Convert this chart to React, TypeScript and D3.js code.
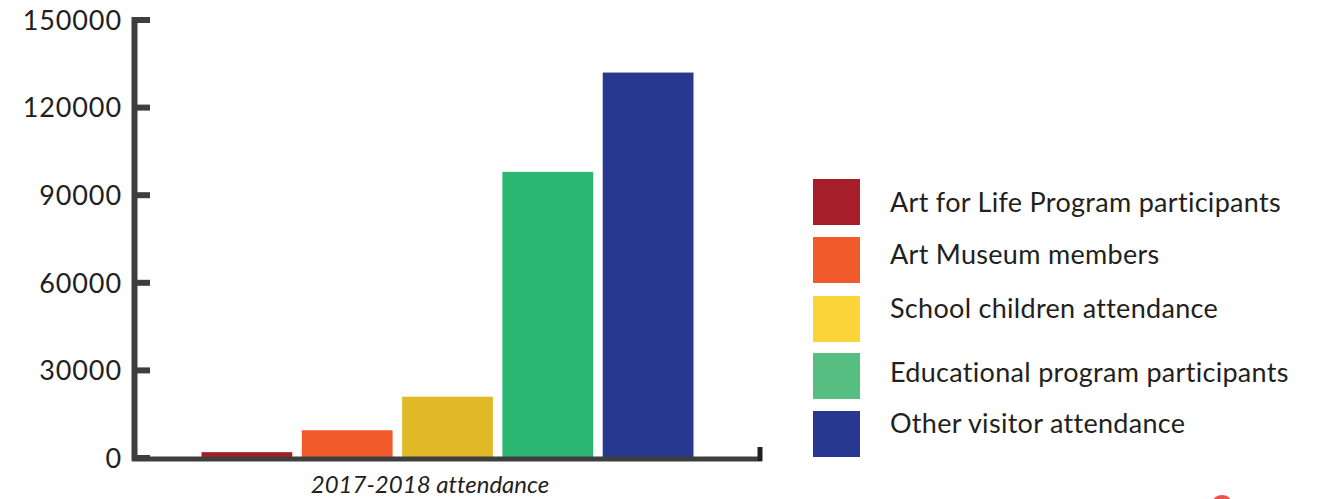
import React from "react";
import * as d3 from "d3";

const categories = [
  "Art for Life Program participants",
  "Art Museum members",
  "School children attendance",
  "Educational program participants",
  "Other visitor attendance",
];
const values = [2000, 9500, 21000, 98000, 132000];
const barColors = ["#a41e26", "#f15a2a", "#e0b928", "#2bb673", "#283891"];
const legendColors = ["#a51e29", "#f15a2b", "#fbd43a", "#56be80", "#283891"];
const yTicks = [0, 30000, 60000, 90000, 120000, 150000];
const xLabel = "2017-2018 attendance";

const W = 1329;
const H = 499;
const AXIS = "#3e3e3e";
const FONT = "Lato, 'Open Sans', sans-serif";

export default function App() {
  const y = d3.scaleLinear().domain([0, 150000]).range([458, 20]);
  const x = d3.scaleBand<string>().domain(categories).range([196.5, 698.5]).paddingInner(0.095).paddingOuter(0.05);
  const legendY = [179, 237, 296, 353, 411];
  const legendBase = [212, 264, 318, 382, 433];

  return (
    <svg width={W} height={H} style={{ position: "absolute", left: 0, top: 0, background: "#fff", fontVariantLigatures: "none" }}>
      {categories.map((c, i) => (
        <rect key={c} x={x(c)} y={y(values[i])} width={x.bandwidth()} height={y(0) + 2 - y(values[i])} fill={barColors[i]} />
      ))}
      {/* y axis */}
      <line x1={134.5} x2={134.5} y1={17} y2={461} stroke={AXIS} strokeWidth={6} />
      {yTicks.map((t) => (
        <g key={t}>
          <line x1={134} x2={150} y1={y(t)} y2={y(t)} stroke={AXIS} strokeWidth={6} />
          <text x={122} y={y(t)} dy="0.36em" textAnchor="end" fontFamily={FONT} fontSize={27} letterSpacing={0.9} fill="#231f20">
            {t}
          </text>
        </g>
      ))}
      {/* x axis */}
      <line x1={132} x2={762} y1={459} y2={459} stroke={AXIS} strokeWidth={5} />
      <line x1={760} x2={760} y1={447} y2={461} stroke="#231f20" strokeWidth={5} />
      <text x={430} y={493} textAnchor="middle" fontFamily={FONT} fontStyle="italic" fontSize={24} fill="#231f20">
        {xLabel}
      </text>
      {/* legend */}
      {categories.map((c, i) => (
        <g key={c}>
          <rect x={813} y={legendY[i]} width={47} height={46} fill={legendColors[i]} />
          <text x={890} y={legendBase[i]} fontFamily={FONT} fontSize={27} letterSpacing={0.3} fill="#231f20">
            {c}
          </text>
        </g>
      ))}
      <circle cx={1222} cy={506} r={11} fill="#ec5350" />
    </svg>
  );
}
